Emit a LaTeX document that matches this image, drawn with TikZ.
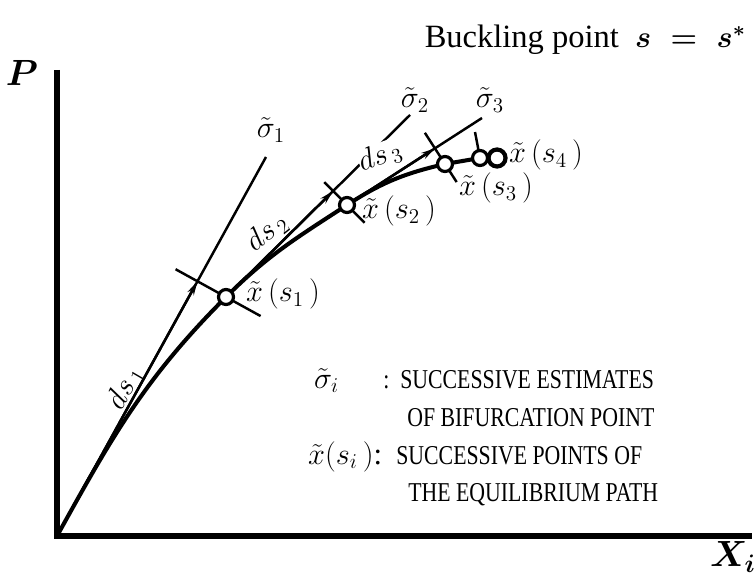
\documentclass[tikz,border=0pt]{standalone}
\usepackage{fontspec}
\setmainfont{Liberation Serif}
\newfontfamily\legendcaps[FakeStretch=0.8]{Liberation Serif}
\usepackage{amsmath}
\usetikzlibrary{arrows.meta, calc}
\tikzset{
  axis/.style={line width=3.4pt, line join=miter},
  eqpath/.style={line width=2.3pt},
  tangent/.style={line width=1.4pt},
  tangentarrow/.style={tangent, -{Stealth[length=8pt, width=4pt]}},
  hyperplane/.style={line width=1.4pt},
  eqpoint/.style={circle, draw, fill=white, line width=1.8pt,
    minimum size=0.30cm, inner sep=0pt},
  lastpoint/.style={eqpoint, line width=2.4pt, minimum size=0.34cm},
  lbl/.style={font=\fontsize{17.5}{20}\selectfont, inner sep=1pt},
  legendtxt/.style={font=\legendcaps\fontsize{15.5}{17}\selectfont,
    anchor=base west, inner sep=0pt},
}
\begin{document}
\begin{tikzpicture}
  \useasboundingbox (-1.14,-0.82) rectangle (13.94,10.72);
  % Axes
  \coordinate (O) at (0,0);
  \coordinate (ytop) at (0,9.32);
  \coordinate (xend) at (13.90,0);
  \draw[axis] (ytop) -- (O) -- (xend);
  \node[font=\fontsize{22}{24}\selectfont\boldmath] (P) at (-0.70,9.26) {$P$};
  \node[font=\fontsize{22}{24}\selectfont\boldmath] (Xi) at (13.52,-0.42) {$X_i$};
  \node[font=\fontsize{18.5}{20}\selectfont, anchor=base east] (buck) at (13.90,9.76)
    {Buckling point~~{\boldmath$s\;=\;s^{*}$}};
  % Points on the path and tangent ends
  \coordinate (x1) at (3.38,4.78);
  \coordinate (x2) at (5.80,6.62);
  \coordinate (x3) at (7.76,7.44);
  \coordinate (x3b) at (8.46,7.56);
  \coordinate (x4) at (8.80,7.56);
  \coordinate (sig1) at (4.18,7.58);
  \coordinate (sig2) at (7.06,8.42);
  \coordinate (sig3) at (8.50,8.36);
  \coordinate (tick4) at (8.36,8.08);
  % Predictor steps
  \coordinate (tip1) at ($(O)!(x1)!(sig1)$);
  \coordinate (tip2) at ($(x1)!(x2)!(sig2)$);
  \coordinate (tip3) at ($(x2)!(x3)!(sig3)$);
  \draw[tangent] (O) -- (sig1);
  \draw[tangent] (x1) -- (sig2);
  \draw[tangent] (x2) -- (sig3);
  \draw[tangentarrow] (O) -- (tip1);
  \draw[tangentarrow] (x1) -- (tip2);
  \draw[tangentarrow] (x2) -- (tip3);
  % Corrector planes
  \coordinate (h1a) at ($(tip1)!-0.50cm!(x1)$);
  \coordinate (h1b) at ($(x1)!-0.79cm!(tip1)$);
  \coordinate (h2a) at ($(tip2)!-0.25cm!(x2)$);
  \coordinate (h2b) at ($(x2)!-0.50cm!(tip2)$);
  \coordinate (h3a) at ($(tip3)!-0.37cm!(x3)$);
  \coordinate (h3b) at ($(x3)!-0.43cm!(tip3)$);
  \draw[hyperplane] (h1a) -- (h1b);
  \draw[hyperplane] (h2a) -- (h2b);
  \draw[hyperplane] (h3a) -- (h3b);
  \draw[hyperplane] (tick4) -- (x3b);
  % Equilibrium path
  \draw[eqpath] (O) to[out=61,in=225] (x1) to[out=45,in=213] (x2)
    to[out=33,in=193] (x3) -- (x3b) -- (x4);
  \node[eqpoint] (c1) at (x1) {};
  \node[eqpoint] (c2) at (x2) {};
  \node[eqpoint] (c3) at (x3) {};
  \node[eqpoint] (c3b) at (x3b) {};
  \node[lastpoint] (c4) at (x4) {};
  % Labels
  \node[lbl] (lsig1) at (4.28,8.12) {$\tilde{\sigma}_1$};
  \node[lbl] (lsig2) at (7.16,8.72) {$\tilde{\sigma}_2$};
  \node[lbl] (lsig3) at (8.66,8.72) {$\tilde{\sigma}_3$};
  \node[lbl, rotate=60] (ds1) at (1.36,2.96) {$ds_{\,1}$};
  \node[lbl, rotate=38] (ds2) at (4.20,6.08) {$ds_{\,2}$};
  \node[lbl, rotate=20, fill=white, inner sep=0pt] (ds3) at (6.46,7.60) {$ds_{\,3}$};
  \node[lbl, anchor=west] (lx1) at (3.74,4.84) {$\tilde{x}\,(s_1\,)$};
  \node[lbl, anchor=west] (lx2) at (6.06,6.50) {$\tilde{x}\,(s_2\,)$};
  \node[lbl, anchor=west] (lx3) at (8.00,6.96) {$\tilde{x}\,(s_3\,)$};
  \node[lbl, anchor=west] (lx4) at (9.00,7.62) {$\tilde{x}\,(s_4\,)$};
  % Legend
  \node[lbl, anchor=base west] (legsig) at (5.10,2.96) {$\tilde{\sigma}_i$};
  \node[legendtxt] (leg1) at (6.52,2.96) {:~~SUCCESSIVE ESTIMATES};
  \node[legendtxt] (leg2) at (7.00,2.20) {OF BIFURCATION POINT};
  \node[lbl, anchor=base west] (legx) at (4.98,1.44) {$\tilde{x}(s_i\,)$:};
  \node[legendtxt] (leg3) at (6.78,1.44) {SUCCESSIVE POINTS OF};
  \node[legendtxt] (leg4) at (7.02,0.70) {THE EQUILIBRIUM PATH};
\end{tikzpicture}
\end{document}
